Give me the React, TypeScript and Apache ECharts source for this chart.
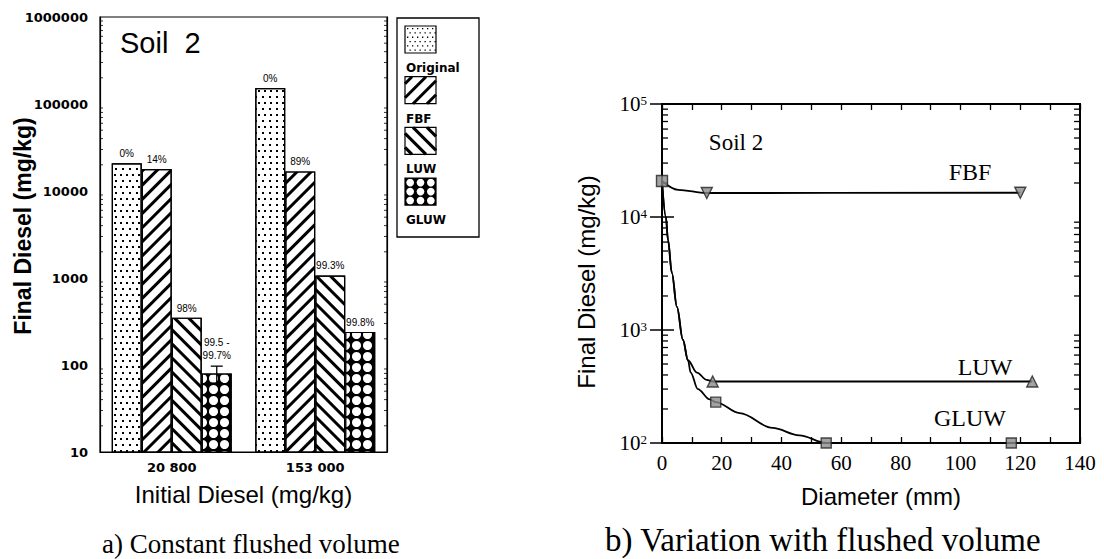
import React, { useEffect, useRef } from 'react';
import * as echarts from 'echarts';

// ---------- Panel a) data ----------
const categories = ['20 800', '153 000'];
const seriesNames = ['Original', 'FBF', 'LUW', 'GLUW'];
const originalValues = [20800, 153000];
const fbfValues = [17900, 16800];
const luwValues = [350, 1070];
const gluwValues = [80, 240];
const originalPct = ['0%', '0%'];
const fbfPct = ['14%', '89%'];
const luwPct = ['98%', '99.3%'];
const gluwPct = ['99.5 -\n99.7%', '99.8%'];
const errorCategory = [0];
const errorLow = [62];
const errorHigh = [97];
const leftTickLabels = ['10', '100', '1000', '10000', '100000', '1000000'];
const leftDecades = [10, 100, 1000, 10000, 100000];

// ---------- Panel b) data ----------
const startPoint = [[0, 20800]];
const fbfPointX = [15, 120];
const fbfPointY = [16300, 16400];
const luwPointX = [17, 124];
const luwPointY = [350, 350];
const gluwPointX = [18, 55, 117];
const gluwPointY = [230, 100, 100];
const fbfCurveX = [0, 5.4, 15, 120];
const fbfCurveY = [20800, 17400, 16300, 16400];
const luwCurveX = [0, 1.3, 2, 3.3, 5, 7, 8.7, 11.7, 15, 17, 124];
const luwCurveY = [20800, 10000, 6300, 3200, 1600, 820, 540, 420, 362, 350, 350];
const gluwCurveX = [0, 1.3, 2, 3.3, 5, 7, 8.7, 9.6, 12, 16, 18, 26, 37, 46, 55, 117];
const gluwCurveY = [20800, 10000, 6300, 3200, 1600, 820, 540, 420, 300, 243, 230, 184, 136, 117, 100, 100];
const rightDecades = [100, 1000, 10000];
const minorMultipliers = [2, 3, 4, 5, 6, 7, 8, 9];

const zip = (xs: number[], ys: number[]) => xs.map((x, i) => [x, ys[i]]);

const BAR_W = 30;
const SANS = 'Liberation Sans';
const GENEVA = 'DejaVu Sans';
const SERIF = 'Liberation Serif';

const decals: Record<string, any> = {
  Original: {
    symbol: 'rect', symbolSize: 1, color: '#000',
    dashArrayX: [[1.3, 3.7], [0, 2.5, 1.3, 1.2]], dashArrayY: [1.3, 3.1],
  },
  FBF: { symbol: 'rect', symbolSize: 1, color: '#000', dashArrayX: [1, 0], dashArrayY: [3, 7], rotation: -Math.PI / 4 },
  LUW: { symbol: 'rect', symbolSize: 1, color: '#000', dashArrayX: [1, 0], dashArrayY: [3, 7], rotation: Math.PI / 4 },
  GLUW: { symbol: 'circle', symbolSize: 1, color: '#fff', dashArrayX: [8.5, 1.5], dashArrayY: [8.5, 1.5] },
};
const fills: Record<string, string> = { Original: '#fff', FBF: '#fff', LUW: '#fff', GLUW: '#000' };

function swatch(kind: string, x0: number, y0: number, w: number, h: number) {
  const ch: any[] = [];
  const stroke = (x1: number, y1: number, x2: number, y2: number, lw: number) =>
    ch.push({ type: 'line', shape: { x1, y1, x2, y2 }, style: { stroke: '#000', lineWidth: lw } });
  if (kind === 'Original') {
    ch.push({ type: 'rect', shape: { x: x0, y: y0, width: w, height: h }, style: { fill: '#fff' } });
    let row = 0;
    for (let v = 2; v < h - 1; v += 4.3, row++) {
      for (let u = (row % 2 ? 4.5 : 2); u < w - 1; u += 5) {
        ch.push({ type: 'rect', shape: { x: x0 + u, y: y0 + v, width: 1.3, height: 1.3 }, style: { fill: '#000' } });
      }
    }
  } else if (kind === 'FBF') {
    ch.push({ type: 'rect', shape: { x: x0, y: y0, width: w, height: h }, style: { fill: '#fff' } });
    for (let c = 7; c < w + h; c += 14) {
      const ua = Math.max(0, c - h), ub = Math.min(w, c);
      stroke(x0 + ua, y0 + c - ua, x0 + ub, y0 + c - ub, 3);
    }
  } else if (kind === 'LUW') {
    ch.push({ type: 'rect', shape: { x: x0, y: y0, width: w, height: h }, style: { fill: '#fff' } });
    for (let c = -h + 7; c < w; c += 14) {
      const ua = Math.max(0, c), ub = Math.min(w, c + h);
      stroke(x0 + ua, y0 + ua - c, x0 + ub, y0 + ub - c, 3);
    }
  } else {
    ch.push({ type: 'rect', shape: { x: x0, y: y0, width: w, height: h }, style: { fill: '#000' } });
    const nx = Math.round(w / 10), ny = Math.round(h / 10);
    const sx = w / nx, sy = h / ny;
    for (let i = 0; i < nx; i++) for (let j = 0; j < ny; j++) {
      ch.push({ type: 'circle', shape: { cx: x0 + sx * (i + 0.5), cy: y0 + sy * (j + 0.5), r: Math.min(sx, sy) * 0.43 }, style: { fill: '#fff' } });
    }
  }
  ch.push({ type: 'rect', shape: { x: x0, y: y0, width: w, height: h }, style: { fill: 'none', stroke: '#000', lineWidth: 1.2 } });
  return ch;
}

function minorTickSeries(xAxisIndex: number, yAxisIndex: number, values: number[], len: number, lw: number) {
  return {
    type: 'custom', xAxisIndex, yAxisIndex, silent: true, z: 4,
    data: values.map((v) => [0, v]),
    renderItem: (params: any, api: any) => {
      const cs = params.coordSys;
      const y = api.coord([api.value(0), api.value(1)])[1];
      const st = { stroke: '#000', lineWidth: lw };
      return {
        type: 'group',
        children: [
          { type: 'line', shape: { x1: cs.x, y1: y, x2: cs.x + len, y2: y }, style: st },
          { type: 'line', shape: { x1: cs.x + cs.width - len, y1: y, x2: cs.x + cs.width, y2: y }, style: st },
        ],
      };
    },
  };
}

export default function App() {
  const ref = useRef<HTMLDivElement>(null);
  useEffect(() => {
    if (!ref.current) return;
    const chart = echarts.init(ref.current, undefined, { renderer: 'svg' });

    const barData: Record<string, number[]> = { Original: originalValues, FBF: fbfValues, LUW: luwValues, GLUW: gluwValues };
    const pctData: Record<string, string[]> = { Original: originalPct, FBF: fbfPct, LUW: luwPct, GLUW: gluwPct };

    const barSeries = seriesNames.map((name) => ({
      type: 'bar', name, xAxisIndex: 0, yAxisIndex: 0, barWidth: BAR_W, barGap: '0%',
      data: barData[name].map((v, i) => ({
        value: v,
        label: { distance: name === 'GLUW' && errorCategory.includes(i) ? 11 : 3 },
      })),
      itemStyle: { color: fills[name], borderColor: '#000', borderWidth: 1.2, decal: decals[name] },
      label: {
        show: true, position: 'top', color: '#000', fontFamily: SANS, fontSize: 10, lineHeight: 13,
        formatter: (p: any) => pctData[name][p.dataIndex],
      },
    }));

    const leftMinor = leftDecades.flatMap((d) => minorMultipliers.map((m) => m * d));
    const rightMinor = rightDecades.flatMap((d) => minorMultipliers.map((m) => m * d));

    const lineStyle = { color: '#000', width: 1.8 };
    const markerStyle = { color: '#8c8c8c', borderColor: '#222', borderWidth: 1.4 };

    const option: any = {
      animation: false,
      backgroundColor: '#fff',
      grid: [
        { left: 100, top: 17, width: 287, height: 435, show: true, borderColor: '#000', borderWidth: 1.2, backgroundColor: 'transparent' },
        { left: 662, top: 104, width: 418, height: 339, show: true, borderColor: '#000', borderWidth: 2, backgroundColor: 'transparent' },
      ],
      xAxis: [
        {
          type: 'category', gridIndex: 0, data: categories,
          axisLine: { lineStyle: { color: '#000', width: 1.2 } }, axisTick: { show: false },
          axisLabel: { color: '#000', fontFamily: GENEVA, fontWeight: 'bold', fontSize: 13, margin: 9 },
          name: 'Initial Diesel (mg/kg)', nameLocation: 'middle', nameGap: 30,
          nameTextStyle: { color: '#000', fontFamily: SANS, fontSize: 24 },
        },
        {
          type: 'value', gridIndex: 1, min: 0, max: 140, interval: 10,
          axisLine: { lineStyle: { color: '#000', width: 2 } },
          axisTick: { inside: true, length: 6, lineStyle: { color: '#000', width: 1.3 } },
          axisLabel: { color: '#000', fontFamily: SERIF, fontSize: 21, margin: 9, formatter: (v: number) => (v % 20 === 0 ? String(v) : '') },
          splitLine: { show: false },
          name: 'Diameter (mm)', nameLocation: 'middle', nameGap: 41,
          nameTextStyle: { color: '#000', fontFamily: SANS, fontSize: 24, padding: [0, 0, 0, 20] },
        },
        {
          type: 'value', gridIndex: 1, position: 'top', min: 0, max: 140, interval: 10,
          axisLine: { lineStyle: { color: '#000', width: 2 } },
          axisTick: { inside: true, length: 6, lineStyle: { color: '#000', width: 1.3 } },
          axisLabel: { show: false }, splitLine: { show: false },
        },
      ],
      yAxis: [
        {
          type: 'log', gridIndex: 0, min: 10, max: 1000000, logBase: 10,
          axisLine: { show: true, lineStyle: { color: '#000', width: 1.2 } },
          axisTick: { inside: true, length: 5, lineStyle: { color: '#000' } },
          axisLabel: {
            color: '#000', fontFamily: GENEVA, fontWeight: 'bold', fontSize: 13, margin: 12,
            formatter: (v: number) => leftTickLabels[Math.round(Math.log10(v)) - 1],
          },
          splitLine: { show: false },
        },
        {
          type: 'log', gridIndex: 0, position: 'right', min: 10, max: 1000000, logBase: 10,
          axisLine: { show: true, lineStyle: { color: '#000', width: 1.2 } },
          axisTick: { inside: true, length: 5, lineStyle: { color: '#000' } },
          axisLabel: { show: false }, splitLine: { show: false },
        },
        {
          type: 'log', gridIndex: 1, min: 100, max: 100000, logBase: 10,
          axisLine: { show: true, lineStyle: { color: '#000', width: 2 } },
          axisTick: { inside: true, length: 12, lineStyle: { color: '#000', width: 1.5 } },
          axisLabel: {
            margin: 15,
            formatter: (v: number) => `{b|10}{s|${Math.round(Math.log10(v))}}`,
            rich: {
              b: { fontFamily: SERIF, fontSize: 21, color: '#000', verticalAlign: 'bottom' },
              s: { fontFamily: SERIF, fontSize: 13, color: '#000', verticalAlign: 'top' },
            },
          },
          splitLine: { show: false },
        },
        {
          type: 'log', gridIndex: 1, position: 'right', min: 100, max: 100000, logBase: 10,
          axisLine: { show: true, lineStyle: { color: '#000', width: 2 } },
          axisTick: { inside: true, length: 12, lineStyle: { color: '#000', width: 1.5 } },
          axisLabel: { show: false }, splitLine: { show: false },
        },
      ],
      series: [
        ...barSeries,
        {
          type: 'custom', xAxisIndex: 0, yAxisIndex: 0, z: 5, silent: true,
          data: errorCategory.map((c, i) => [c, errorLow[i], errorHigh[i]]),
          renderItem: (params: any, api: any) => {
            const c = api.value(0);
            const lo = api.coord([c, api.value(1)]);
            const hi = api.coord([c, api.value(2)]);
            const x = lo[0] + BAR_W * 1.5;
            const st = { stroke: '#000', lineWidth: 1.3 };
            return {
              type: 'group',
              children: [
                { type: 'line', shape: { x1: x, y1: lo[1], x2: x, y2: hi[1] }, style: st },
                { type: 'line', shape: { x1: x - 6, y1: hi[1], x2: x + 6, y2: hi[1] }, style: st },
                { type: 'line', shape: { x1: x - 6, y1: lo[1], x2: x + 6, y2: lo[1] }, style: st },
              ],
            };
          },
        },
        minorTickSeries(0, 0, leftMinor, 3, 0.8),
        minorTickSeries(1, 2, rightMinor, 6, 1.3),
        { type: 'line', name: 'FBF curve', xAxisIndex: 1, yAxisIndex: 2, data: zip(fbfCurveX, fbfCurveY), smooth: 0.35, smoothMonotone: 'x', showSymbol: false, symbol: 'none', lineStyle, silent: true },
        { type: 'line', name: 'LUW curve', xAxisIndex: 1, yAxisIndex: 2, data: zip(luwCurveX, luwCurveY), smooth: 0.35, smoothMonotone: 'x', showSymbol: false, symbol: 'none', lineStyle, silent: true },
        { type: 'line', name: 'GLUW curve', xAxisIndex: 1, yAxisIndex: 2, data: zip(gluwCurveX, gluwCurveY), smooth: 0.35, smoothMonotone: 'x', showSymbol: false, symbol: 'none', lineStyle, silent: true },
        { type: 'scatter', name: 'Original', xAxisIndex: 1, yAxisIndex: 2, data: startPoint, symbol: 'rect', symbolSize: 11, itemStyle: markerStyle, clip: false, z: 6 },
        { type: 'scatter', name: 'FBF', xAxisIndex: 1, yAxisIndex: 2, data: zip(fbfPointX, fbfPointY), symbol: 'triangle', symbolRotate: 180, symbolSize: 11, itemStyle: markerStyle, clip: false, z: 6 },
        { type: 'scatter', name: 'LUW', xAxisIndex: 1, yAxisIndex: 2, data: zip(luwPointX, luwPointY), symbol: 'triangle', symbolSize: 11, itemStyle: markerStyle, clip: false, z: 6 },
        { type: 'scatter', name: 'GLUW', xAxisIndex: 1, yAxisIndex: 2, data: zip(gluwPointX, gluwPointY), symbol: 'rect', symbolSize: 10, itemStyle: markerStyle, clip: false, z: 6 },
      ],
      graphic: [
        { type: 'text', x: 120, y: 43, style: { text: 'Soil  2', fontFamily: SANS, fontSize: 29, fill: '#000', verticalAlign: 'middle' } },
        { type: 'text', x: 23, y: 226, rotation: Math.PI / 2, style: { text: 'Final Diesel (mg/kg)', fontFamily: SANS, fontWeight: 'bold', fontSize: 23, fill: '#000', align: 'center', verticalAlign: 'middle' } },
        { type: 'rect', shape: { x: 397, y: 18, width: 82, height: 219 }, style: { fill: '#fff', stroke: '#000', lineWidth: 1.3 } },
        ...seriesNames.flatMap((name, i) => {
          const top = 26 + i * 50.7;
          return [
            ...swatch(name, 405, top, 31, 27),
            { type: 'text', x: 406, y: top + 42, style: { text: name, fontFamily: GENEVA, fontWeight: 'bold', fontSize: 12, fill: '#000', verticalAlign: 'middle' } },
          ];
        }),
        { type: 'text', x: 586, y: 282, rotation: Math.PI / 2, style: { text: 'Final Diesel (mg/kg)', fontFamily: SANS, fontSize: 24, fill: '#000', align: 'center', verticalAlign: 'middle' } },
        { type: 'text', x: 736, y: 142, style: { text: 'Soil 2', fontFamily: SERIF, fontSize: 23, fill: '#000', align: 'center', verticalAlign: 'middle' } },
        { type: 'text', x: 970, y: 172, style: { text: 'FBF', fontFamily: SERIF, fontSize: 24, fill: '#000', align: 'center', verticalAlign: 'middle' } },
        { type: 'text', x: 985, y: 367, style: { text: 'LUW', fontFamily: SERIF, fontSize: 24, fill: '#000', align: 'center', verticalAlign: 'middle' } },
        { type: 'text', x: 970, y: 418, style: { text: 'GLUW', fontFamily: SERIF, fontSize: 24, fill: '#000', align: 'center', verticalAlign: 'middle' } },
        { type: 'text', x: 102, y: 544, style: { text: 'a) Constant flushed volume', fontFamily: SERIF, fontSize: 27, fill: '#000', verticalAlign: 'middle' } },
        { type: 'text', x: 605, y: 540, style: { text: 'b) Variation with flushed volume', fontFamily: SERIF, fontSize: 33, fill: '#000', verticalAlign: 'middle' } },
      ],
    };
    chart.setOption(option);
    return () => chart.dispose();
  }, []);
  return <div ref={ref} style={{ position: 'fixed', left: 0, top: 0, width: 1104, height: 559, background: '#fff' }} />;
}
